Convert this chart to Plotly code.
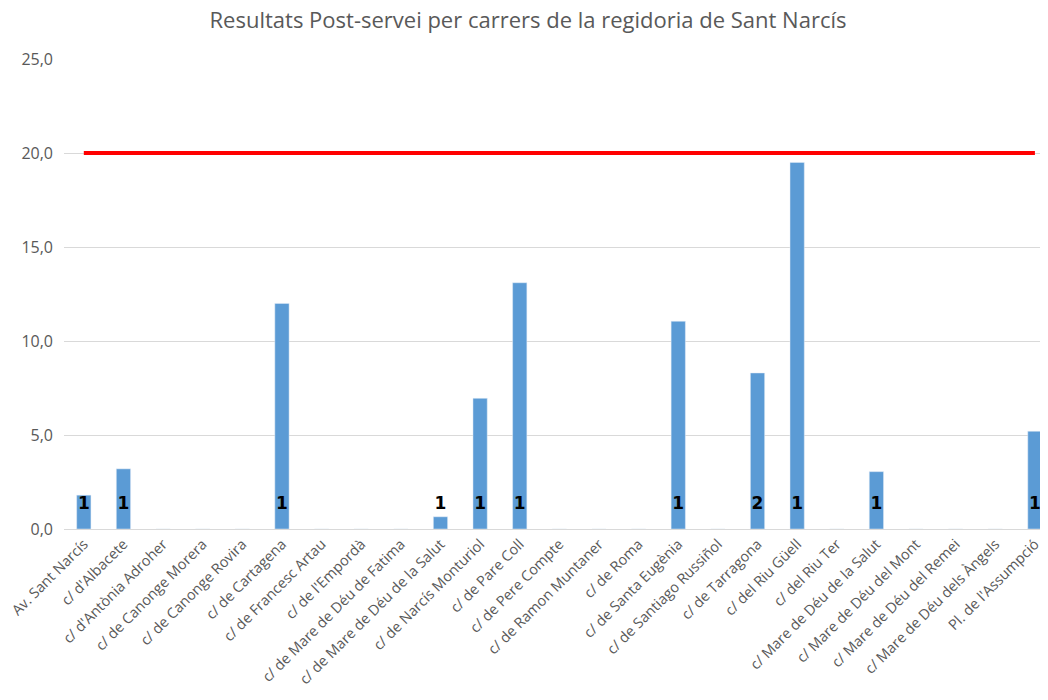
import plotly.graph_objects as go

# ── Data ──────────────────────────────────────────────────────────────────────
STREETS = [
    "Av. Sant Narcís", "c/ d'Albacete", "c/ d'Antònia Adroher", "c/ de Canonge Morera",
    "c/ de Canonge Rovira", "c/ de Cartagena", "c/ de Francesc Artau", "c/ de l'Empordà",
    "c/ de Mare de Déu de Fatima", "c/ de Mare de Déu de la Salut", "c/ de Narcís Monturiol",
    "c/ de Pare Coll", "c/ de Pere Compte", "c/ de Ramon Muntaner", "c/ de Roma",
    "c/ de Santa Eugènia", "c/ de Santiago Russiñol", "c/ de Tarragona", "c/ del Riu Güell",
    "c/ del Riu Ter", "c/ Mare de Déu de la Salut", "c/ Mare de Déu del Mont",
    "c/ Mare de Déu del Remei", "c/ Mare de Déu dels Àngels", "Pl. de l'Assumpció",
]
RESULTS = [1.8, 3.2, 0, 0, 0, 12.0, 0, 0, 0, 0.65, 6.95, 13.1, 0, 0, 0,
           11.05, 0, 8.3, 19.5, 0, 3.05, 0, 0, 0, 5.2]
COUNTS = [1, 1, None, None, None, 1, None, None, None, 1, 1, 1, None, None, None,
          1, None, 2, 1, None, 1, None, None, None, 1]
THRESHOLD = 20

# ── Style ─────────────────────────────────────────────────────────────────────
BAR = "#5B9BD5"
GREY = "#595959"
FONT = "Open Sans"
LABEL_Y = 1.3

fig = go.Figure()
fig.add_trace(go.Bar(
    x=STREETS, y=RESULTS,
    marker_color=BAR, width=0.36,
    showlegend=False, hoverinfo="x+y",
))
fig.add_trace(go.Scatter(
    x=STREETS, y=[THRESHOLD] * len(STREETS),
    mode="lines", line=dict(color="#FF0000", width=4),
    showlegend=False,
))
fig.add_trace(go.Scatter(
    x=[s for s, c in zip(STREETS, COUNTS) if c is not None],
    y=[LABEL_Y] * sum(c is not None for c in COUNTS),
    text=[str(c) for c in COUNTS if c is not None],
    mode="text", textfont=dict(family="DejaVu Sans", size=17, color="black", weight="bold"),
    showlegend=False, hoverinfo="skip",
))

# page body has an 8px margin, so the figure is sized to sit in the window
fig.update_layout(
    width=1040, height=692,
    paper_bgcolor="white", plot_bgcolor="white",
    font=dict(family=FONT, color=GREY),
    separators=",.",
    margin=dict(l=53, r=0, t=51, b=171),
    title=dict(text="Resultats Post-servei per carrers de la regidoria de Sant Narcís",
               x=0.5, xref="container", xanchor="center",
               y=1, yref="container", yanchor="top", pad=dict(t=5),
               font=dict(size=22, color=GREY, family=FONT)),
    xaxis=dict(
        range=[-0.5, 24.33], tickangle=-45, tickfont=dict(size=14.5, color=GREY),
        showgrid=False, showline=True, linecolor="#D9D9D9", linewidth=1, ticks="",
    ),
    yaxis=dict(
        range=[0, 25], dtick=5, tickformat=".1f", tickfont=dict(size=16, color=GREY),
        gridcolor="#D9D9D9", zeroline=False, showline=False, ticklabelstandoff=10,
    ),
)

fig.write_html("out.html")
